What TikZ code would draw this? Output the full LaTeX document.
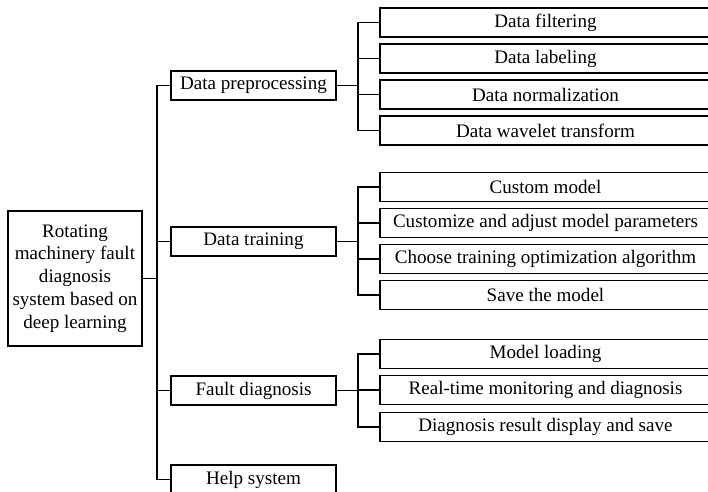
\documentclass[tikz,border=0pt]{standalone}
\usepackage{fontspec}
\setmainfont{Liberation Serif}

\begin{document}
\begin{tikzpicture}[x=0.75pt,y=-0.75pt,line join=miter,
  box/.style={draw,line width=1.1pt,inner sep=0pt,font=\fontsize{14.3}{17.1}\selectfont},
  rootbox/.style={box,minimum width=100.5pt,minimum height=101.25pt,align=center},
  midbox/.style={box,minimum width=123.75pt,minimum height=21.75pt},
  subbox/.style={box,minimum width=248.25pt,minimum height=22pt},
  link/.style={line width=1.1pt}]
  \useasboundingbox (0,0) rectangle (708,492);

  % root
  \node[rootbox] (root) at (75,278.5) {Rotating\\machinery fault\\diagnosis\\system based on\\deep learning};

  % first level
  \node[midbox] (pre)   at (253.5,85.5)  {Data preprocessing};
  \node[midbox] (train) at (253.5,241.5) {Data training};
  \node[midbox] (fault) at (253.5,390.5) {Fault diagnosis};
  \node[midbox] (help)  at (253.5,479.5) {Help system};

  % second level
  \node[subbox] (filt)  at (545.5,22.5)  {Data filtering};
  \node[subbox] (lab)   at (545.5,58.5)  {Data labeling};
  \node[subbox] (norm)  at (545.5,94.5)  {Data normalization};
  \node[subbox] (wave)  at (545.5,130.5) {Data wavelet transform};
  \node[subbox] (cust)  at (545.5,187)   {Custom model};
  \node[subbox] (param) at (545.5,223)   {Customize and adjust model parameters};
  \node[subbox] (optim) at (545.5,259)   {Choose training optimization algorithm};
  \node[subbox] (save)  at (545.5,295)   {Save the model};
  \node[subbox] (load)  at (545.5,354)   {Model loading};
  \node[subbox] (mon)   at (545.5,390)   {Real-time monitoring and diagnosis};
  \node[subbox] (show)  at (545.5,427)   {Diagnosis result display and save};

  % bus points
  \coordinate (rootbus)  at (157,278.5);
  \coordinate (prebus)   at (358,85.5);
  \coordinate (trainbus) at (358,241.5);
  \coordinate (faultbus) at (358,390.5);

  % connectors
  \draw[link] (root.east) -- (rootbus);
  \foreach \n in {pre,train,fault,help}
    \draw[link] (rootbus) |- (\n.west);
  \draw[link] (pre.east) -- (prebus);
  \draw[link] (train.east) -- (trainbus);
  \draw[link] (fault.east) -- (faultbus);
  \foreach \k in {filt,lab,norm,wave}
    \draw[link] (prebus) |- (\k.west);
  \foreach \k in {cust,param,optim,save}
    \draw[link] (trainbus) |- (\k.west);
  \foreach \k in {load,mon,show}
    \draw[link] (faultbus) |- (\k.west);
\end{tikzpicture}
\end{document}
